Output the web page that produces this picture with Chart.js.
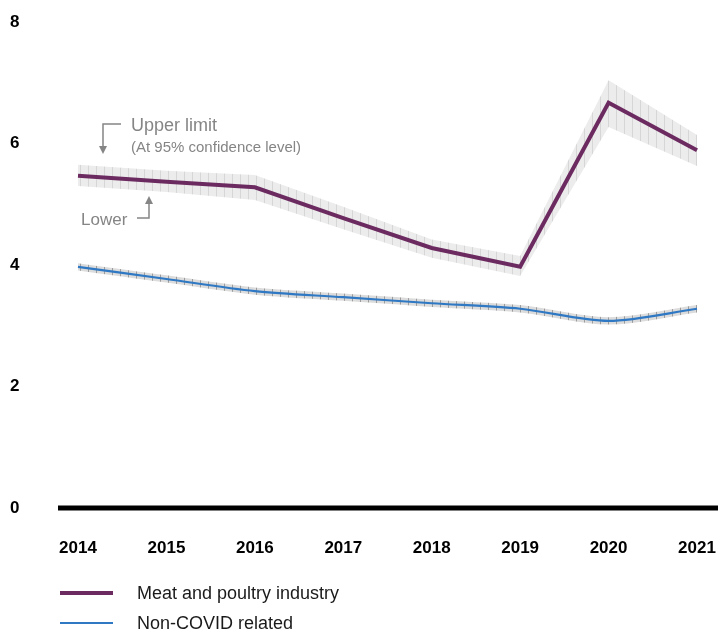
<!DOCTYPE html>
<html>
<head>
<meta charset="utf-8">
<script src="https://cdn.jsdelivr.net/npm/chart.js@4.4.1/dist/chart.umd.min.js"></script>
<style>
    body { margin: 0; background: #fff; font-family: 'Liberation Sans', Arial, sans-serif; }
    #wrap { position: relative; width: 718px; height: 635px; }
    .leg-line { position: absolute; left: 60px; width: 53px; }
    .leg-text { position: absolute; left: 137px; font-size: 18px; color: #1a1a1a; line-height: 20px; }
</style>
</head>
<body>
<div id="wrap">
    <canvas id="chart" width="718" height="635"></canvas>
    <div class="leg-line" style="top: 591px; height: 4px; background: #6c2b60;"></div>
    <div class="leg-text" style="top: 583px;">Meat and poultry industry</div>
    <div class="leg-line" style="top: 622px; height: 2px; background: #2f78c4;"></div>
    <div class="leg-text" style="top: 613px;">Non-COVID related</div>
</div>
<script>
const years = ['2014', '2015', '2016', '2017', '2018', '2019', '2020', '2021'];
const meat = [5.47, 5.37, 5.28, 4.77, 4.28, 3.97, 6.67, 5.89];
const meatUpper = [5.65, 5.55, 5.48, 4.96, 4.42, 4.15, 7.04, 6.14];
const meatLower = [5.30, 5.20, 5.07, 4.59, 4.12, 3.82, 6.27, 5.63];
const nonCovid = [3.97, 3.77, 3.57, 3.47, 3.37, 3.28, 3.08, 3.28];
const nonCovidUpper = [4.03, 3.83, 3.63, 3.53, 3.43, 3.34, 3.14, 3.34];
const nonCovidLower = [3.91, 3.71, 3.51, 3.41, 3.31, 3.22, 3.02, 3.22];
const yTicks = [0, 2, 4, 6, 8];

const FONT = "'Liberation Sans', Arial, sans-serif";
const PURPLE = '#6c2b60';
const BLUE = '#2f78c4';

function hatch(bg, line) {
    const pc = document.createElement('canvas');
    pc.width = 8;
    pc.height = 8;
    const c = pc.getContext('2d');
    c.fillStyle = bg;
    c.fillRect(0, 0, 8, 8);
    c.fillStyle = line;
    c.fillRect(0, 0, 1, 8);
    return c.createPattern(pc, 'repeat');
}

// zero line + "Upper limit" / "Lower" notes
const notes = {
    id: 'notes',
    beforeDatasetsDraw(chart) {
        const ctx = chart.ctx;
        const y0 = chart.scales.y.getPixelForValue(0);
        ctx.save();
        ctx.fillStyle = '#000';
        ctx.fillRect(58, y0 - 2.5, 660, 5);
        ctx.restore();
    },
    afterDraw(chart) {
        const ctx = chart.ctx;
        const gray = '#858585';
        ctx.save();
        ctx.strokeStyle = gray;
        ctx.fillStyle = gray;
        ctx.lineWidth = 1.5;

        // upper bracket, arrow down
        ctx.beginPath();
        ctx.moveTo(121, 124);
        ctx.lineTo(103, 124);
        ctx.lineTo(103, 147);
        ctx.stroke();
        ctx.beginPath();
        ctx.moveTo(99, 146);
        ctx.lineTo(107, 146);
        ctx.lineTo(103, 154);
        ctx.closePath();
        ctx.fill();

        // lower bracket, arrow up
        ctx.beginPath();
        ctx.moveTo(137, 218);
        ctx.lineTo(149, 218);
        ctx.lineTo(149, 203);
        ctx.stroke();
        ctx.beginPath();
        ctx.moveTo(145, 204);
        ctx.lineTo(153, 204);
        ctx.lineTo(149, 196);
        ctx.closePath();
        ctx.fill();

        ctx.textBaseline = 'alphabetic';
        ctx.textAlign = 'left';
        ctx.font = '18px ' + FONT;
        ctx.fillText('Upper limit', 131, 131);
        ctx.font = '15px ' + FONT;
        ctx.fillText('(At 95% confidence level)', 131, 152);
        ctx.font = '17px ' + FONT;
        ctx.fillText('Lower', 81, 225);
        ctx.restore();
    }
};

document.addEventListener('DOMContentLoaded', () => {
    const bandMeat = hatch('#ececec', '#d6d6d6');
    const bandBlue = hatch('#dcdcdc', '#9c9c9c');

    const lineBase = { pointRadius: 0, pointHoverRadius: 0 };
    const bandBase = { pointRadius: 0, pointHoverRadius: 0, borderWidth: 0, borderColor: 'rgba(0,0,0,0)' };

    new Chart(document.getElementById('chart'), {
        type: 'line',
        data: {
            labels: years,
            datasets: [{
                ...lineBase,
                label: 'Meat and poultry industry',
                data: meat,
                borderColor: PURPLE,
                borderWidth: 4,
                tension: 0
            }, {
                ...lineBase,
                label: 'Non-COVID related',
                data: nonCovid,
                borderColor: BLUE,
                borderWidth: 2.2,
                tension: 0.3
            }, {
                ...bandBase,
                label: 'meat upper',
                data: meatUpper,
                backgroundColor: bandMeat,
                fill: '+1',
                tension: 0
            }, {
                ...bandBase,
                label: 'meat lower',
                data: meatLower,
                fill: false,
                tension: 0
            }, {
                ...bandBase,
                label: 'non-covid upper',
                data: nonCovidUpper,
                backgroundColor: bandBlue,
                fill: '+1',
                tension: 0.3
            }, {
                ...bandBase,
                label: 'non-covid lower',
                data: nonCovidLower,
                fill: false,
                tension: 0.3
            }]
        },
        options: {
            responsive: false,
            animation: false,
            devicePixelRatio: 1,
            layout: {
                padding: { left: 10, right: 21, top: 22, bottom: 0 }
            },
            plugins: {
                legend: { display: false },
                tooltip: { enabled: false }
            },
            scales: {
                x: {
                    grid: { display: false },
                    border: { display: false },
                    ticks: {
                        color: '#000',
                        padding: 22,
                        maxRotation: 0,
                        font: { family: FONT, size: 17, weight: 'bold' }
                    },
                    afterFit(scale) {
                        scale.height = 127;
                        scale.paddingLeft = 0;
                        scale.paddingRight = 0;
                    }
                },
                y: {
                    min: 0,
                    max: 8,
                    grid: { display: false },
                    border: { display: false },
                    afterBuildTicks(scale) {
                        scale.ticks = yTicks.map(v => ({ value: v }));
                    },
                    ticks: {
                        color: '#000',
                        crossAlign: 'far',
                        font: { family: FONT, size: 17, weight: 'bold' }
                    },
                    afterFit(scale) { scale.width = 68; }
                }
            }
        },
        plugins: [notes]
    });
});
</script>
</body>
</html>
